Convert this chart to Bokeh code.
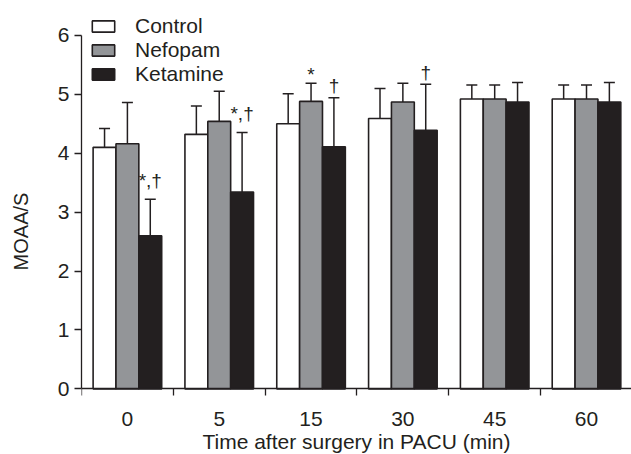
from bokeh.plotting import figure
from bokeh.models import (Range1d, FixedTicker, Legend, LegendItem, Whisker,
                          TeeHead, ColumnDataSource)
from bokeh.embed import file_html
from bokeh.resources import INLINE
from bokeh.core.properties import value

# ---- data ----
times = ["0", "5", "15", "30", "45", "60"]
groups = ["Control", "Nefopam", "Ketamine"]
control_mean = [4.10, 4.32, 4.50, 4.59, 4.92, 4.92]
control_sd = [0.32, 0.48, 0.51, 0.51, 0.24, 0.24]
nefopam_mean = [4.16, 4.54, 4.88, 4.87, 4.92, 4.92]
nefopam_sd = [0.70, 0.51, 0.31, 0.32, 0.24, 0.24]
ketamine_mean = [2.60, 3.34, 4.11, 4.39, 4.87, 4.87]
ketamine_sd = [0.62, 1.01, 0.83, 0.78, 0.33, 0.33]
# significance marks: (time, group, label)
marks_time = ["0", "5", "15", "15", "30"]
marks_group = ["Ketamine", "Ketamine", "Nefopam", "Ketamine", "Ketamine"]
marks_text = ["*,\u2020", "*,\u2020", "*", "\u2020", "\u2020"]
x_title = "Time after surgery in PACU (min)"
y_title = "MOAA/S"

# ---- style ----
INK = "#231f20"
FILLS = {"Control": "#ffffff", "Nefopam": "#939598", "Ketamine": "#231f20"}
FONT = "Liberation Sans"
BAR_W = 0.249
OFFS = {"Control": -BAR_W, "Nefopam": 0.0, "Ketamine": BAR_W}

means = {"Control": control_mean, "Nefopam": nefopam_mean, "Ketamine": ketamine_mean}
sds = {"Control": control_sd, "Nefopam": nefopam_sd, "Ketamine": ketamine_sd}

# frame runs to the bottom edge; the x axis is pinned at y = 0 inside it
p = figure(width=631, height=454, output_backend="svg", toolbar_location=None,
           x_range=Range1d(0, 5.99), y_range=Range1d(-1.115, 6.457),
           min_border_left=81, min_border_right=0, min_border_top=8,
           min_border_bottom=0)
p.outline_line_color = None
p.grid.grid_line_color = None
p.background_fill_color = None
p.border_fill_color = "white"

items = []
for g in groups:
    xs = [i + 0.5 + OFFS[g] for i in range(len(times))]
    m = means[g]
    up = [a + b for a, b in zip(m, sds[g])]
    src = ColumnDataSource(dict(x=xs, top=m, upper=up))
    w = Whisker(source=src, base="x", lower="top", upper="upper",
                dimension="height", line_color=INK, line_width=1.5,
                lower_head=None,
                upper_head=TeeHead(size=11, line_color=INK, line_width=1.5))
    p.add_layout(w)
    r = p.vbar(x="x", top="top", width=BAR_W, bottom=0, source=src,
               fill_color=FILLS[g], line_color=INK, line_width=1.6)
    items.append(LegendItem(label=g, renderers=[r]))

# significance marks
mx, my, moff = [], [], []
for t, g, s in zip(marks_time, marks_group, marks_text):
    i = times.index(t)
    mx.append(i + 0.5 + OFFS[g])
    my.append(means[g][i] + sds[g][i])
    moff.append(-19 if "," in s else (-12 if "\u2020" in s else -9))
msrc = ColumnDataSource(dict(x=mx, y=my, text=marks_text, off=moff))
p.text(x="x", y="y", text="text", source=msrc, text_align="center",
       text_baseline="alphabetic", y_offset="off", text_color=INK,
       text_font=value(FONT), text_font_size="19px")

legend = Legend(items=items, location=(8, 368), orientation="vertical",
                glyph_width=28, glyph_height=14, label_standoff=18,
                spacing=0, padding=0, margin=0, border_line_color=None,
                background_fill_alpha=0, label_text_font=FONT,
                label_text_font_size="21px", label_text_color=INK,
                label_height=23)
p.add_layout(legend, "center")

# y axis
ya = p.yaxis[0]
ya.bounds = (0, 6)
ya.ticker = FixedTicker(ticks=[0, 1, 2, 3, 4, 5, 6], minor_ticks=[])
ya.axis_label = y_title
ya.axis_label_text_font = FONT
ya.axis_label_text_font_size = "20px"
ya.axis_label_text_font_style = "normal"
ya.axis_label_text_color = INK
ya.axis_label_standoff = 23
ya.major_label_text_font = FONT
ya.major_label_text_font_size = "21px"
ya.major_label_text_color = INK
ya.major_label_standoff = 5
ya.major_tick_out = 7
ya.major_tick_in = 0
ya.axis_line_color = INK
ya.major_tick_line_color = INK
ya.axis_line_width = 1.3
ya.major_tick_line_width = 1.3

# x axis: ticks at category boundaries, labels at centres
xa = p.xaxis[0]
xa.fixed_location = 0
centres = [i + 0.5 for i in range(len(times))]
xa.ticker = FixedTicker(ticks=centres, minor_ticks=list(range(len(times) + 1)))
xa.major_label_overrides = {c: t for c, t in zip(centres, times)}
xa.major_tick_line_color = None
xa.minor_tick_line_color = INK
xa.minor_tick_out = 7
xa.minor_tick_in = 0
xa.minor_tick_line_width = 1.3
xa.axis_line_color = INK
xa.axis_line_width = 1.3
xa.major_label_text_font = FONT
xa.major_label_text_font_size = "21px"
xa.major_label_text_color = INK
xa.major_label_standoff = 16
xa.axis_label = x_title
xa.axis_label_text_font = FONT
xa.axis_label_text_font_size = "21px"
xa.axis_label_text_font_style = "normal"
xa.axis_label_text_color = INK
xa.axis_label_standoff = 1

open("out.html", "w").write(file_html(p, INLINE))
